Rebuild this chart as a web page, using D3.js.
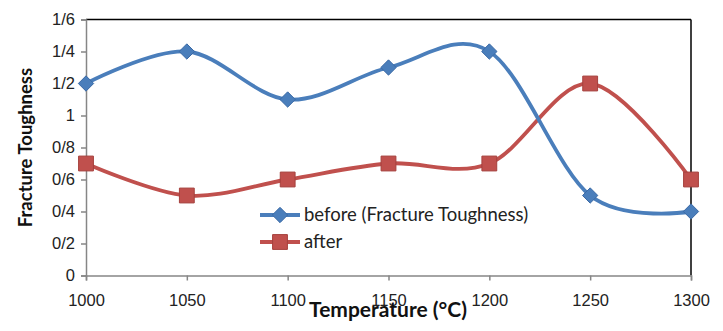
<!DOCTYPE html>
<html>
<head>
<meta charset="utf-8">
<script src="https://cdn.jsdelivr.net/npm/d3@7"></script>
<style>
  html,body{margin:0;padding:0;background:#fff;}
  svg{display:block;font-family:Lato,"Open Sans",sans-serif;}
</style>
</head>
<body>
<svg id="chart"></svg>
<script>
// ---------- DATA ---------------------------------------------------------
const temps  = [1000, 1050, 1100, 1150, 1200, 1250, 1300];
const before = [1.2, 1.4, 1.1, 1.3, 1.4, 0.5, 0.4];
const after  = [0.7, 0.5, 0.6, 0.7, 0.7, 1.2, 0.6];
const yTicks = [0, 0.2, 0.4, 0.6, 0.8, 1, 1.2, 1.4, 1.6];
const yTickLabels = ['0','0/2','0/4','0/6','0/8','1','1/2','1/4','1/6'];
const seriesNames = ['before (Fracture Toughness)', 'after'];

// ---------- LAYOUT -------------------------------------------------------
const W = 723, H = 331;
const M = {top:19.5, right:32, bottom:55.5, left:86};
const IW = W - M.left - M.right, IH = H - M.top - M.bottom;
const COLORS = {before:'#4a7ebb', beforeEdge:'#3b6aa6', after:'#c0504d', afterEdge:'#a5403d', axis:'#868686'};

const svg = d3.select('#chart').attr('width', W).attr('height', H);
const g = svg.append('g').attr('transform', `translate(${M.left},${M.top})`);

const x = d3.scaleLinear().domain([1000, 1300]).range([0, IW]);
const y = d3.scaleLinear().domain([0, 1.6]).range([IH, 0]);

// plot frame: black top/right edges
g.append('line').attr('x1',0).attr('x2',IW).attr('y1',0).attr('y2',0).attr('stroke','#000').attr('stroke-width',1.5);
g.append('line').attr('x1',IW).attr('x2',IW).attr('y1',0).attr('y2',IH).attr('stroke','#000').attr('stroke-width',1.5);

// axes
const yAxis = g.append('g')
  .call(d3.axisLeft(y).tickValues(yTicks).tickFormat((d,i)=>yTickLabels[i]).tickSize(5).tickPadding(6));
const xAxis = g.append('g').attr('transform', `translate(0,${IH})`)
  .call(d3.axisBottom(x).tickValues(temps).tickFormat(d3.format('d')).tickSize(5).tickPadding(14));
[yAxis, xAxis].forEach(a => {
  a.select('.domain').attr('stroke', COLORS.axis).attr('stroke-width', 1.5);
  a.selectAll('.tick line').attr('stroke', COLORS.axis).attr('stroke-width', 1.5);
  a.selectAll('.tick text').attr('fill', '#222').style('font-size', '16.5px');
});
xAxis.selectAll('.tick text').attr('dy', '0.71em');

// axis titles
svg.append('text').attr('x', 388).attr('y', 317).attr('text-anchor','middle')
  .style('font-size','21px').style('font-weight','bold').attr('fill','#111')
  .text('Temperature (°C)');
svg.append('text').attr('transform', `translate(32,${M.top + IH/2}) rotate(-90)`)
  .attr('text-anchor','middle').style('font-size','18.5px').style('font-weight','bold').attr('fill','#111')
  .text('Fracture Toughness');

// ---------- SERIES -------------------------------------------------------
const line = d3.line().curve(d3.curveCatmullRom.alpha(0))
  .x((d,i) => x(temps[i])).y(d => y(d));

const diamond = d3.symbol().type(d3.symbolDiamond2).size(150);
const square  = d3.symbol().type(d3.symbolSquare2).size(280);

function drawSeries(vals, color, edge, sym){
  g.append('path').datum(vals).attr('fill','none').attr('stroke',color)
    .attr('stroke-width',3.8).attr('d', line);
  g.selectAll(null).data(vals).enter().append('path')
    .attr('transform', (d,i) => `translate(${x(temps[i])},${y(d)})`)
    .attr('d', sym).attr('fill', color).attr('stroke', edge).attr('stroke-width', 1);
}
drawSeries(after,  COLORS.after,  COLORS.afterEdge,  square);
drawSeries(before, COLORS.before, COLORS.beforeEdge, diamond);

// ---------- LEGEND -------------------------------------------------------
const lg = svg.append('g').attr('transform', 'translate(260,215)');
const legendItems = [
  {name: seriesNames[0], color: COLORS.before, edge: COLORS.beforeEdge, sym: diamond},
  {name: seriesNames[1], color: COLORS.after,  edge: COLORS.afterEdge,  sym: square}
];
legendItems.forEach((it, i) => {
  const row = lg.append('g').attr('transform', `translate(0,${i*27})`);
  row.append('line').attr('x1',0).attr('x2',40).attr('stroke',it.color).attr('stroke-width',3.8);
  row.append('path').attr('transform','translate(20,0)').attr('d', it.sym)
    .attr('fill', it.color).attr('stroke', it.edge).attr('stroke-width', 1);
  row.append('text').attr('x', 44).attr('dy','0.35em').style('font-size','18.5px').attr('fill','#222').text(it.name);
});
</script>
</body>
</html>
